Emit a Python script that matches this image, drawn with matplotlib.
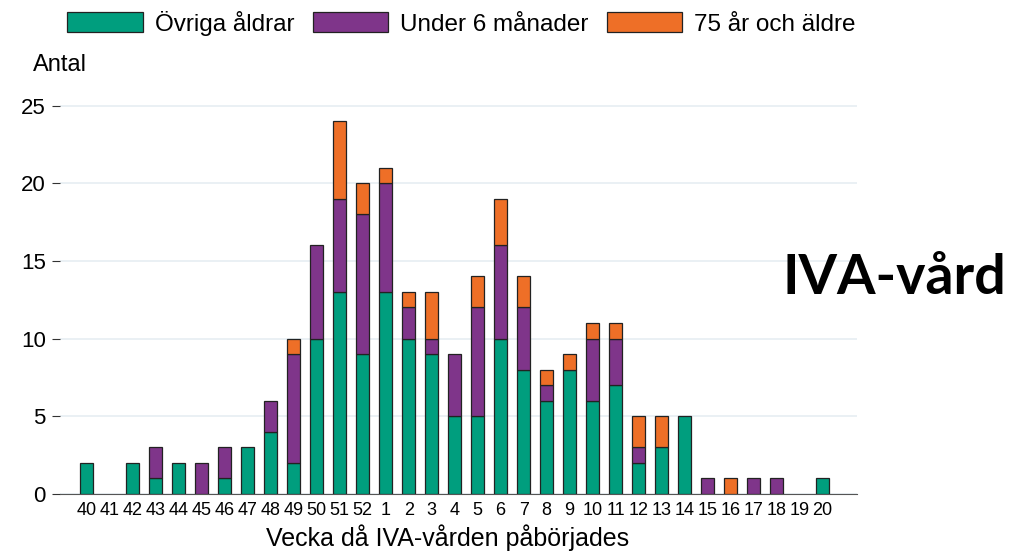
import matplotlib.pyplot as plt
import numpy as np

plt.rcParams['font.family'] = ['Liberation Sans', 'DejaVu Sans']

veckor = ['40', '41', '42', '43', '44', '45', '46', '47', '48', '49', '50', '51', '52',
          '1', '2', '3', '4', '5', '6', '7', '8', '9', '10', '11', '12', '13', '14',
          '15', '16', '17', '18', '19', '20']
ovriga = [2, 0, 2, 1, 2, 0, 1, 3, 4, 2, 10, 13, 9,
          13, 10, 9, 5, 5, 10, 8, 6, 8, 6, 7, 2, 3, 5,
          0, 0, 0, 0, 0, 1]
under6 = [0, 0, 0, 2, 0, 2, 2, 0, 2, 7, 6, 6, 9,
          7, 2, 1, 4, 7, 6, 4, 1, 0, 4, 3, 1, 0, 0,
          1, 0, 1, 1, 0, 0]
over75 = [0, 0, 0, 0, 0, 0, 0, 0, 0, 1, 0, 5, 2,
          1, 1, 3, 0, 2, 3, 2, 1, 1, 1, 1, 2, 2, 0,
          0, 1, 0, 0, 0, 0]

x = np.arange(len(veckor))
ovriga = np.array(ovriga)
under6 = np.array(under6)
over75 = np.array(over75)

fig = plt.figure(figsize=(10.12, 5.53), dpi=100)
ax = fig.add_axes([0.059, 0.107, 0.788, 0.72])


def kanter(v):
    # inga kantlinjer på tomma staplar
    return [0.9 if n > 0 else 0 for n in v]


ax.bar(x, ovriga, color='#009E7E', label='Övriga åldrar', width=0.57,
       edgecolor='#222222', linewidth=kanter(ovriga), zorder=3)
ax.bar(x, under6, bottom=ovriga, color='#7F358A', label='Under 6 månader', width=0.57,
       edgecolor='#222222', linewidth=kanter(under6), zorder=3)
ax.bar(x, over75, bottom=ovriga + under6, color='#EE6F27', label='75 år och äldre', width=0.57,
       edgecolor='#222222', linewidth=kanter(over75), zorder=3)

ax.set_xlim(-1.17, 33.5)
ax.set_ylim(0, 25.64)
ax.set_yticks([0, 5, 10, 15, 20, 25])
ax.set_xticks(x)
ax.set_xticklabels(veckor)
ax.tick_params(axis='x', length=0, labelsize=13, pad=6)
ax.tick_params(axis='y', length=6, width=0.8, labelsize=16, pad=4, color='#333333')
ax.grid(axis='y', color='#e6eef2', linewidth=1.2, zorder=0)
for s in ['top', 'right', 'left']:
    ax.spines[s].set_visible(False)
ax.spines['bottom'].set_color('#555555')

ax.set_xlabel('Vecka då IVA-vården påbörjades', fontsize=18)
ax.xaxis.set_label_coords(0.486, -0.077)
fig.text(0.033, 0.882, 'Antal', fontsize=17, ha='left', va='center')

leg = fig.legend(loc='center', bbox_to_anchor=(0.456, 0.958), ncol=3, fontsize=17.5,
                 frameon=False, handlelength=3.1, handleheight=0.9, columnspacing=0.75,
                 handletextpad=0.5)
for h in leg.legend_handles:
    h.set_edgecolor('#222222')
    h.set_linewidth(0.9)

fig.text(0.884, 0.497, 'IVA-vård', fontsize=40, fontweight='bold',
         family=['Lato', 'DejaVu Sans'], ha='center', va='center')

plt.savefig('out.png', dpi=100)
